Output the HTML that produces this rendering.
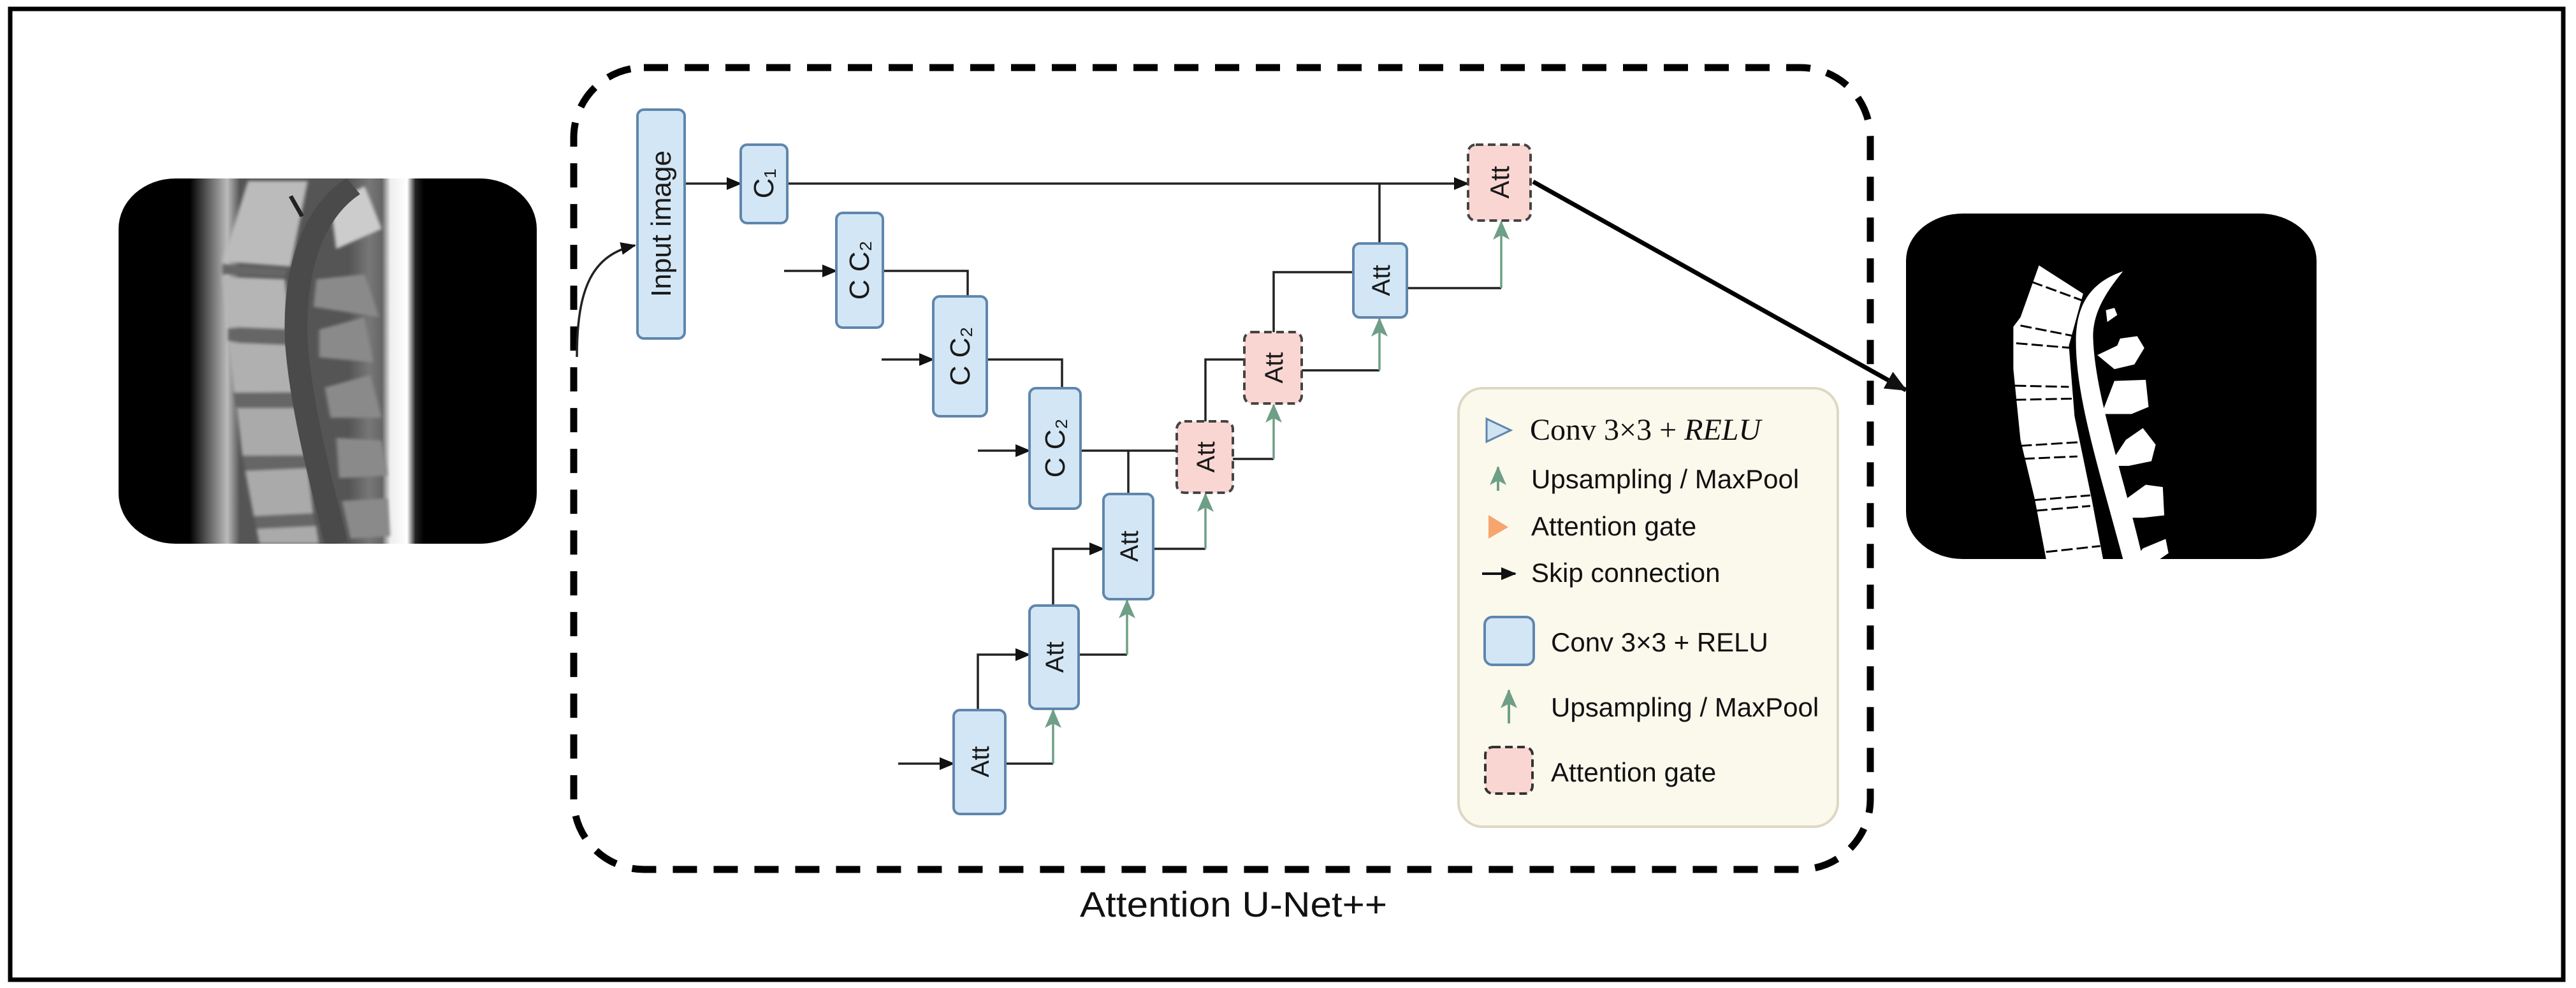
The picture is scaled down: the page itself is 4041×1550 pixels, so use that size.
<!DOCTYPE html>
<html><head><meta charset="utf-8"><style>
html,body{margin:0;padding:0;background:#fff;}
svg{display:block;}
.s{font-family:"Liberation Sans","DejaVu Sans",sans-serif;}
.r{font-family:"Liberation Serif","DejaVu Serif",serif;}
</style></head><body>
<svg width="4041" height="1550" viewBox="0 0 4041 1550" xmlns="http://www.w3.org/2000/svg">
<defs>
<marker id="ak" markerWidth="24" markerHeight="20" refX="22" refY="10" orient="auto" markerUnits="userSpaceOnUse" viewBox="0 0 24 20"><path d="M0,0 L24,10 L0,20 z" fill="#111"/></marker>
<marker id="akb" markerWidth="34" markerHeight="30" refX="32" refY="15" orient="auto" markerUnits="userSpaceOnUse" viewBox="0 0 34 30"><path d="M0,0 L34,15 L0,30 z" fill="#111"/></marker>
<marker id="ag" markerWidth="30" markerHeight="26" refX="28" refY="13" orient="auto" markerUnits="userSpaceOnUse" viewBox="0 0 30 26"><path d="M0,0 L30,13 L0,26 L7,13 z" fill="#6f9f86"/></marker>
<filter id="bl"><feGaussianBlur stdDeviation="6"/></filter>
</defs>
<rect x="16" y="14" width="4005" height="1523" fill="none" stroke="#000" stroke-width="7"/>

<!-- left MRI -->
<svg x="186" y="280" width="656" height="573" viewBox="35 50 1470 1450" preserveAspectRatio="none">
<defs><clipPath id="cl"><rect x="35" y="50" width="1470" height="1450" rx="200"/></clipPath>
<linearGradient id="lg" x1="0" x2="1"><stop offset="0.17" stop-color="#000"/><stop offset="0.21" stop-color="#555"/><stop offset="0.26" stop-color="#bbb"/><stop offset="0.29" stop-color="#555"/><stop offset="0.55" stop-color="#555"/><stop offset="0.6" stop-color="#777"/><stop offset="0.63" stop-color="#666"/><stop offset="0.65" stop-color="#eee"/><stop offset="0.69" stop-color="#fff"/><stop offset="0.71" stop-color="#222"/><stop offset="0.73" stop-color="#000"/></linearGradient></defs>
<g clip-path="url(#cl)">
<rect x="35" y="50" width="1470" height="1450" fill="url(#lg)"/>
<g filter="url(#bl)">
<path d="M490,60 L700,60 L640,400 L400,380 Z" fill="#bbb"/>
<path d="M400,440 L620,450 L640,650 L420,640 Z" fill="#b5b5b5"/>
<path d="M420,700 L640,710 L660,900 L440,900 Z" fill="#b0b0b0"/>
<path d="M450,960 L670,960 L690,1150 L470,1150 Z" fill="#aaa"/>
<path d="M480,1210 L700,1200 L720,1380 L510,1390 Z" fill="#aaa"/>
<path d="M520,1440 L730,1430 L740,1500 L530,1500 Z" fill="#aaa"/>
<path d="M400,390 L630,410 L620,440 L400,430 Z M420,645 L640,655 L640,705 L420,695 Z M440,900 L660,905 L670,955 L450,955 Z M470,1150 L690,1155 L700,1200 L480,1205 Z M510,1390 L720,1385 L730,1430 L520,1435 Z" fill="#666"/>
<path d="M730,450 L900,430 L950,600 L720,560 Z M740,650 L900,600 L930,780 L740,760 Z M760,880 L920,830 L960,1000 L780,1000 Z M800,1080 L960,1090 L980,1230 L810,1240 Z M820,1330 L980,1320 L990,1470 L850,1480 Z" fill="#8a8a8a"/>
<path d="M780,150 L900,80 L960,250 L800,330 Z" fill="#ccc"/>
</g>
<path d="M860,80 C700,200 650,450 660,700 C680,1000 760,1300 800,1500" stroke="#4a4a4a" stroke-width="80" fill="none"/>
<path d="M640,120 L680,200" stroke="#222" stroke-width="15"/>
</g></svg>

<!-- right mask -->
<svg x="2990" y="335" width="644" height="542" viewBox="68 40 1442 1465" preserveAspectRatio="none">
<defs><clipPath id="cr"><rect x="68" y="40" width="1442" height="1465" rx="200"/></clipPath></defs>
<g clip-path="url(#cr)">
<rect x="68" y="40" width="1442" height="1465" fill="#000"/>
<path d="M535,260 L690,380 L640,600 L660,900 L720,1250 L760,1505 L560,1505 L520,1250 L470,1000 L445,700 L445,520 L470,480 Z" fill="#fff"/>
<path d="M830,285 C720,330 670,420 665,560 C660,800 740,1100 830,1505 L900,1505 C820,1100 730,800 725,560 C725,450 780,360 830,285 Z" fill="#fff"/>
<path d="M740,640 L810,600 L820,570 L880,560 L905,610 L870,680 L800,700 Z M755,890 L800,750 L910,745 L920,860 L860,890 Z M780,1110 L840,1000 L900,950 L945,1020 L930,1090 L850,1110 Z M825,1330 L830,1260 L910,1190 L970,1200 L975,1320 L900,1330 Z M870,1505 L900,1460 L980,1420 L990,1480 L960,1505 Z M770,450 L800,440 L810,470 L775,500 Z" fill="#fff"/>
<path d="M510,330 L690,410 M470,515 L660,560 M455,590 L650,610 M450,770 L640,775 M450,830 L650,825 M470,1025 L670,1010 M480,1080 L670,1070 M520,1255 L715,1235 M525,1300 L715,1280 M560,1475 L750,1450" stroke="#000" stroke-width="8" stroke-dasharray="40 14" fill="none"/>
</g></svg>

<!-- dashed container -->
<rect x="900" y="106" width="2034" height="1258" rx="110" fill="none" stroke="#000" stroke-width="11" stroke-dasharray="38 26"/>
<text class="s" x="1935" y="1438" font-size="56" text-anchor="middle" fill="#111" textLength="482" lengthAdjust="spacingAndGlyphs">Attention U-Net++</text>

<!-- big arrow -->
<line x1="2405" y1="285" x2="2990" y2="612" stroke="#000" stroke-width="7" marker-end="url(#akb)"/>

<!-- curved input arrow -->
<path d="M905,560 C905,450 930,400 996,385" fill="none" stroke="#222" stroke-width="3.5" marker-end="url(#ak)"/>

<g fill="none" stroke="#222" stroke-width="3.5">
<line x1="1074" y1="288" x2="1162" y2="288" marker-end="url(#ak)"/>
<line x1="1235" y1="288" x2="2303" y2="288" marker-end="url(#ak)"/>
<line x1="1230" y1="425" x2="1312" y2="425" marker-end="url(#ak)"/>
<line x1="1383" y1="564" x2="1464" y2="564" marker-end="url(#ak)"/>
<line x1="1534" y1="707" x2="1615" y2="707" marker-end="url(#ak)"/>
<line x1="1409" y1="1198" x2="1496" y2="1198" marker-end="url(#ak)"/>
<polyline points="1385,425 1518,425 1518,465"/>
<polyline points="1548,564 1666,564 1666,609"/>
<line x1="1695" y1="707" x2="1846" y2="707"/>
<line x1="1770" y1="707" x2="1770" y2="775"/>
<polyline points="1891,661 1891,564 1952,564"/>
<polyline points="1998,521 1998,427 2123,427"/>
<line x1="2164" y1="382" x2="2164" y2="288"/>
<polyline points="1652,950 1652,861 1731,861" marker-end="url(#ak)"/>
<polyline points="1534,1114 1534,1027 1615,1027" marker-end="url(#ak)"/>
<polyline points="2207,452 2355,452"/>
<polyline points="2042,581 2164,581"/>
<polyline points="1934,720 1998,720"/>
<polyline points="1809,861 1891,861"/>
<polyline points="1692,1027 1768,1027"/>
<polyline points="1577,1198 1652,1198"/>
</g>
<g fill="none" stroke="#6f9f86" stroke-width="3.5">
<line x1="2355" y1="452" x2="2355" y2="348" marker-end="url(#ag)"/>
<line x1="2164" y1="581" x2="2164" y2="500" marker-end="url(#ag)"/>
<line x1="1998" y1="720" x2="1998" y2="635" marker-end="url(#ag)"/>
<line x1="1891" y1="861" x2="1891" y2="775" marker-end="url(#ag)"/>
<line x1="1768" y1="1027" x2="1768" y2="942" marker-end="url(#ag)"/>
<line x1="1652" y1="1198" x2="1652" y2="1114" marker-end="url(#ag)"/>
</g>

<!-- blue nodes -->
<g fill="#d3e6f5" stroke="#5f86ad" stroke-width="4">
<rect x="1000" y="172" width="74" height="359" rx="10"/>
<rect x="1162" y="227" width="73" height="123" rx="10"/>
<rect x="1312" y="334" width="73" height="180" rx="10"/>
<rect x="1464" y="465" width="84" height="188" rx="10"/>
<rect x="1615" y="609" width="80" height="189" rx="10"/>
<rect x="1731" y="775" width="78" height="165" rx="10"/>
<rect x="1615" y="950" width="77" height="162" rx="10"/>
<rect x="1496" y="1114" width="81" height="163" rx="10"/>
<rect x="2123" y="382" width="84" height="116" rx="10"/>
</g>
<g fill="#fad6d2" stroke="#444" stroke-width="4" stroke-dasharray="12 7">
<rect x="1846" y="661" width="88" height="112" rx="12"/>
<rect x="1952" y="521" width="90" height="112" rx="12"/>
<rect x="2303" y="227" width="98" height="119" rx="12"/>
</g>
<g class="s" fill="#1a1a1a" font-size="40" text-anchor="middle">
<text transform="translate(1052,351) rotate(-90)" font-size="44">Input image</text>
<text transform="translate(1213,288) rotate(-90)" font-size="44">C₁</text>
<text transform="translate(1363,424) rotate(-90)" font-size="44">C C₂</text>
<text transform="translate(1521,559) rotate(-90)" font-size="44">C C₂</text>
<text transform="translate(1670,703) rotate(-90)" font-size="44">C C₂</text>
<text transform="translate(1785,857) rotate(-90)">Att</text>
<text transform="translate(1668,1031) rotate(-90)">Att</text>
<text transform="translate(1551,1195) rotate(-90)">Att</text>
<text transform="translate(2180,440) rotate(-90)">Att</text>
<text transform="translate(1905,717) rotate(-90)">Att</text>
<text transform="translate(2012,577) rotate(-90)">Att</text>
<text transform="translate(2367,286) rotate(-90)" font-size="42">Att</text>
</g>

<!-- legend -->
<rect x="2288" y="609" width="595" height="688" rx="38" fill="#fbf8ec" stroke="#ddd8c4" stroke-width="4"/>
<path d="M2332,657 L2370,675 L2332,693 Z" fill="#cfe3f3" stroke="#5f86ad" stroke-width="3"/>
<text class="r" x="2400" y="690" font-size="48" fill="#111">Conv 3×3 + <tspan font-style="italic">RELU</tspan></text>
<line x1="2350" y1="770" x2="2350" y2="733" stroke="#6f9f86" stroke-width="4" marker-end="url(#ag)"/>
<text class="s" x="2402" y="766" font-size="42" fill="#111">Upsampling / MaxPool</text>
<path d="M2335,808 L2366,827 L2335,845 Z" fill="#f5a56d"/>
<text class="s" x="2402" y="840" font-size="42" fill="#111">Attention gate</text>
<line x1="2325" y1="900" x2="2377" y2="900" stroke="#111" stroke-width="4" marker-end="url(#ak)"/>
<text class="s" x="2402" y="913" font-size="42" fill="#111">Skip connection</text>
<rect x="2329" y="968" width="77" height="75" rx="12" fill="#d3e6f5" stroke="#5f86ad" stroke-width="4"/>
<text class="s" x="2433" y="1022" font-size="42" fill="#111">Conv 3×3 + RELU</text>
<line x1="2367" y1="1135" x2="2367" y2="1083" stroke="#6f9f86" stroke-width="4" marker-end="url(#ag)"/>
<text class="s" x="2433" y="1124" font-size="42" fill="#111">Upsampling / MaxPool</text>
<rect x="2330" y="1172" width="74" height="73" rx="12" fill="#fad6d2" stroke="#333" stroke-width="4" stroke-dasharray="12 7"/>
<text class="s" x="2433" y="1226" font-size="42" fill="#111">Attention gate</text>
</svg>
</body></html>
